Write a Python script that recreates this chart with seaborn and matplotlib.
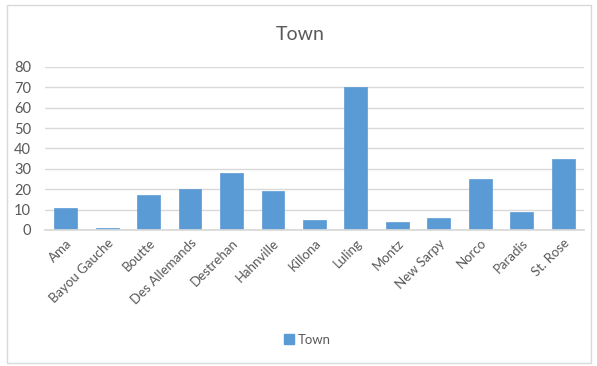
import matplotlib
matplotlib.use("Agg")
import matplotlib.pyplot as plt
import seaborn as sns
import pandas as pd
from matplotlib.patches import Rectangle, Patch

towns = ["Ama", "Bayou Gauche", "Boutte", "Des Allemands", "Destrehan", "Hahnville",
         "Killona", "Luling", "Montz", "New Sarpy", "Norco", "Paradis", "St. Rose"]
counts = [11, 1, 17, 20, 28, 19, 5, 70, 4, 6, 25, 9, 35]
yticks = [0, 10, 20, 30, 40, 50, 60, 70, 80]

df = pd.DataFrame({"Town": towns, "Count": counts})

sns.set_theme(style="white")
plt.rcParams["font.family"] = ["Lato", "DejaVu Sans"]

bar_color = "#5b9bd5"
text_color = "#595959"

fig = plt.figure(figsize=(5.97, 3.66), dpi=100)
ax = fig.add_axes([0.0754, 0.3716, 0.9026, 0.4454])

sns.barplot(data=df, x="Town", y="Count", color=bar_color, width=0.55,
            saturation=1, ax=ax, edgecolor=bar_color, linewidth=0.5)

ax.set_ylim(0, 80)
ax.set_yticks(yticks)
ax.set_xlim(-0.5, len(towns) - 0.5)
ax.yaxis.grid(True, color="#d9d9d9", linewidth=1)
ax.set_axisbelow(True)
for s in ["top", "right", "left"]:
    ax.spines[s].set_visible(False)
ax.spines["bottom"].set_color("#d9d9d9")
ax.set_xlabel("")
ax.set_ylabel("")
ax.tick_params(axis="both", length=0, colors=text_color)
ax.tick_params(axis="x", pad=5, labelsize=9.5)
ax.tick_params(axis="y", pad=10, labelsize=10.5)
for lbl in ax.get_xticklabels():
    lbl.set_rotation(45)
    lbl.set_ha("right")
    lbl.set_rotation_mode("anchor")

fig.text(0.503, 0.905, "Town", ha="center", va="center", fontsize=14, color=text_color)

fig.legend(handles=[Patch(facecolor=bar_color, edgecolor=bar_color, label="Town")],
           loc="center", bbox_to_anchor=(0.515, 0.072), frameon=False,
           fontsize=9.5, handlelength=0.7, handleheight=0.7, handletextpad=0.3,
           labelcolor=text_color)

fig.patches.append(Rectangle((0.012, 0.008), 0.978, 0.978, transform=fig.transFigure,
                             fill=False, edgecolor="#d9d9d9", linewidth=1))

fig.savefig("out.png", dpi=100)
